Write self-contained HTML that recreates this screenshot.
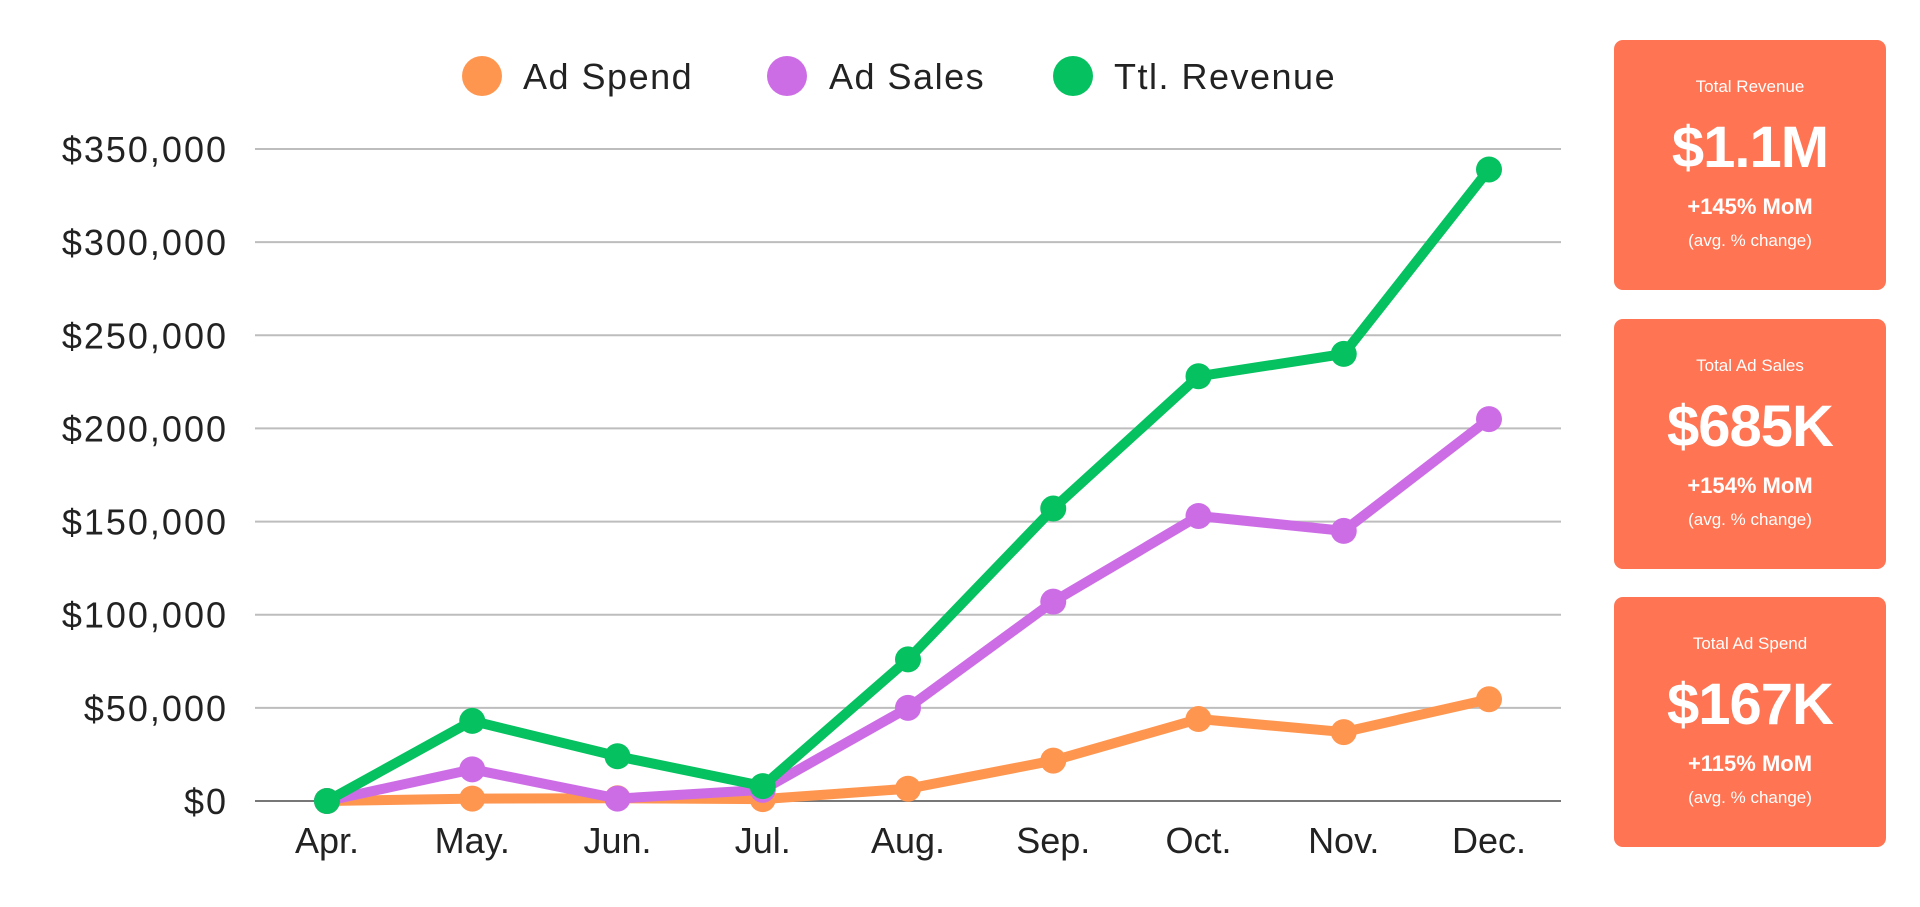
<!DOCTYPE html>
<html><head><meta charset="utf-8"><style>
html,body{margin:0;padding:0;background:#fff;}
body{width:1920px;height:907px;position:relative;overflow:hidden;font-family:"Liberation Sans",sans-serif;}
.card{position:absolute;left:1614px;width:272px;height:250px;background:#FF7452;border-radius:9px;color:#fff;text-align:center;}
.card .t{position:absolute;top:37px;width:100%;font-size:17px;}
.card .v{position:absolute;top:74px;width:100%;font-size:58px;font-weight:bold;letter-spacing:-1px;}
.card .m{position:absolute;top:154px;width:100%;font-size:22px;font-weight:bold;}
.card .a{position:absolute;top:191px;width:100%;font-size:17px;}
</style></head><body>
<svg id="chart" width="1600" height="907" style="position:absolute;left:0;top:0" font-family="Liberation Sans, sans-serif"></svg>
<div class="card" style="top:40px"><div class="t">Total Revenue</div><div class="v">$1.1M</div><div class="m">+145% MoM</div><div class="a">(avg. % change)</div></div>
<div class="card" style="top:319px"><div class="t">Total Ad Sales</div><div class="v">$685K</div><div class="m">+154% MoM</div><div class="a">(avg. % change)</div></div>
<div class="card" style="top:597px"><div class="t">Total Ad Spend</div><div class="v">$167K</div><div class="m">+115% MoM</div><div class="a">(avg. % change)</div></div>
<script>
const months = ["Apr.","May.","Jun.","Jul.","Aug.","Sep.","Oct.","Nov.","Dec."];
const adSpend = [0,1300,1500,1000,6600,21700,44000,37000,54600];
const adSales = [0,17000,1300,6000,50000,107000,153000,145000,205000];
const revenue = [0,43000,24000,8000,76000,157000,228000,240000,339000];
const yTicks = [0,50000,100000,150000,200000,250000,300000,350000];
const yTickLabels = ["$0","$50,000","$100,000","$150,000","$200,000","$250,000","$300,000","$350,000"];
const svg = document.getElementById('chart');
const NS = 'http://www.w3.org/2000/svg';
const x = i => 327 + i * (1489 - 327) / (months.length - 1);
const y = v => 801 - v * (801 - 149) / 350000;
function mk(tag, attrs, parent) { const e = document.createElementNS(NS, tag); for (const k in attrs) e.setAttribute(k, attrs[k]); (parent || svg).appendChild(e); return e; }
yTicks.forEach((t, i) => {
  const l = mk('line', {x1:255, x2:1561, y1:y(t), y2:y(t), stroke: t===0?'#777':'#bdbdbd', 'stroke-width':2});
  
  
  const tx = mk('text', {x:228, y:y(t)+13, 'text-anchor':'end', 'font-size':36, fill:'#222', 'letter-spacing':2});
  tx.textContent = yTickLabels[i];
  
  
});
months.forEach((m, i) => {
  const tx = mk('text', {x:x(i), y:853, 'text-anchor':'middle', 'font-size':36, fill:'#222'});
  tx.textContent = m;
  
  
});
const series = [[adSpend,'#FF9650','ad-spend'],[adSales,'#CD6DE6','ad-sales'],[revenue,'#05C160','total-revenue']];
series.forEach(([d, c, n]) => {
  const p = mk('polyline', {points: d.map((v,i)=>x(i)+','+y(v)).join(' '), fill:'none', stroke:c, 'stroke-width':10, 'stroke-linejoin':'round'});
  
  
  d.forEach((v, i) => {
    const ci = mk('circle', {cx:x(i), cy:y(v), r:13, fill:c});
    
    
  });
});
const legend = [['Ad Spend','#FF9650',482,523],['Ad Sales','#CD6DE6',787,829],['Ttl. Revenue','#05C160',1073,1114]];
legend.forEach(([t, c, cx, tx]) => {
  const ci = mk('circle', {cx:cx, cy:76, r:20, fill:c});
  
  
  const te = mk('text', {x:tx, y:89, 'font-size':36, fill:'#222', 'letter-spacing':1.5});
  te.textContent = t;
  
  
});
</script>
</body></html>
